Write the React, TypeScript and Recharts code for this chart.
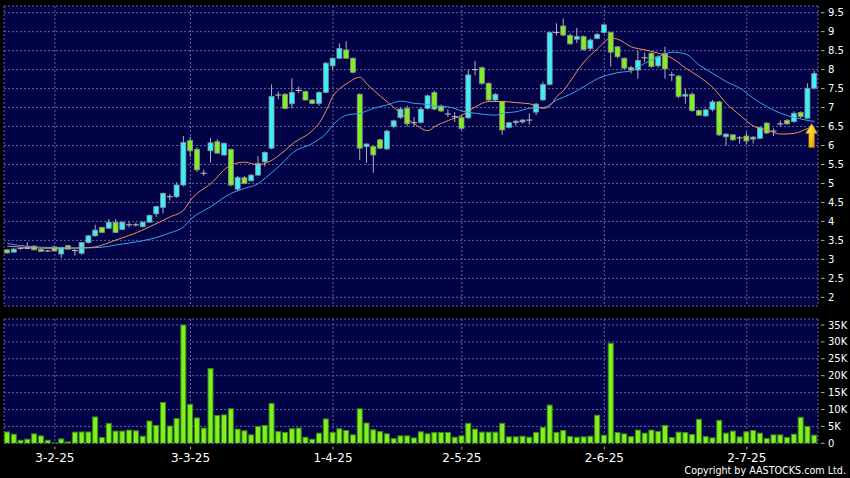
import React from 'react';
import { ComposedChart, Bar, Line, XAxis, YAxis, CartesianGrid, ReferenceDot } from 'recharts';

const dates = [
  '20-1-25','21-1-25','22-1-25','23-1-25','24-1-25','27-1-25','28-1-25',
  '3-2-25','4-2-25','5-2-25','6-2-25','7-2-25','10-2-25','11-2-25','12-2-25','13-2-25','14-2-25','17-2-25','18-2-25','19-2-25','20-2-25','21-2-25','24-2-25','25-2-25','26-2-25','27-2-25','28-2-25',
  '3-3-25','4-3-25','5-3-25','6-3-25','7-3-25','10-3-25','11-3-25','12-3-25','13-3-25','14-3-25','17-3-25','18-3-25','19-3-25','20-3-25','21-3-25','24-3-25','25-3-25','26-3-25','27-3-25','28-3-25','31-3-25',
  '1-4-25','2-4-25','3-4-25','7-4-25','8-4-25','9-4-25','10-4-25','11-4-25','14-4-25','15-4-25','16-4-25','17-4-25','22-4-25','23-4-25','24-4-25','25-4-25','28-4-25','29-4-25','30-4-25',
  '2-5-25','5-5-25','6-5-25','7-5-25','8-5-25','9-5-25','12-5-25','13-5-25','14-5-25','15-5-25','16-5-25','19-5-25','20-5-25','21-5-25','22-5-25','23-5-25','26-5-25','27-5-25','28-5-25','29-5-25','30-5-25',
  '2-6-25','3-6-25','4-6-25','5-6-25','6-6-25','9-6-25','10-6-25','11-6-25','12-6-25','13-6-25','16-6-25','17-6-25','18-6-25','19-6-25','20-6-25','23-6-25','24-6-25','25-6-25','26-6-25','27-6-25','30-6-25',
  '2-7-25','3-7-25','4-7-25','7-7-25','8-7-25','9-7-25','10-7-25','11-7-25','14-7-25','15-7-25','16-7-25',
];

const opens = [
  3.25,3.19,3.29,3.29,3.35,3.26,3.22,3.33,3.14,3.36,
  3.23,3.16,3.44,3.62,3.84,3.82,3.97,3.79,3.91,3.91,
  3.86,3.98,4.20,4.37,4.65,4.65,4.96,6.13,5.90,5.27,
  5.86,6.10,5.75,5.90,4.85,5.15,5.07,5.22,5.57,5.93,
  7.33,7.35,7.10,7.45,7.42,7.20,7.11,7.40,8.10,8.30,
  8.52,8.30,7.35,5.97,5.97,6.15,5.91,6.50,6.74,6.98,
  6.60,6.61,6.98,7.40,7.04,6.83,6.76,6.74,6.73,8.00,
  8.05,7.64,7.20,7.16,6.48,6.60,6.62,6.67,6.88,7.20,
  7.61,8.98,9.15,8.90,8.80,8.87,8.56,8.82,8.98,8.98,
  8.60,8.30,8.05,7.99,8.31,8.43,8.10,8.43,7.86,7.83,
  7.30,7.35,6.92,6.78,6.95,7.15,6.23,6.28,6.20,6.25,
  6.17,6.19,6.59,6.38,6.57,6.66,6.63,6.87,6.72,7.51,
];
const highs = [
  3.27,3.30,3.31,3.45,3.37,3.30,3.25,3.36,3.31,3.38,
  3.27,3.46,3.64,3.91,3.86,4.06,4.06,4.00,4.00,3.97,
  4.00,4.18,4.41,4.76,4.72,5.03,6.25,6.23,5.95,5.36,
  6.20,6.17,6.08,5.92,5.20,5.20,5.25,5.72,5.84,7.61,
  7.42,7.38,7.77,7.55,7.45,7.22,7.43,8.20,8.32,8.69,
  8.75,8.32,7.38,6.06,6.00,6.18,6.42,6.68,7.00,7.05,
  6.75,7.00,7.34,7.45,7.08,6.95,6.88,6.78,8.00,8.23,
  8.08,7.66,7.38,7.18,6.62,6.68,6.70,6.85,7.12,7.68,
  9.00,9.22,9.35,8.95,9.10,8.90,8.82,8.96,9.20,9.00,
  8.62,8.32,8.10,8.50,8.45,8.46,8.38,8.60,7.95,7.86,
  7.50,7.40,6.95,6.97,7.20,7.18,6.33,6.30,6.25,6.35,
  6.25,6.50,6.62,6.45,6.66,6.70,6.90,6.90,7.64,7.97,
];
const lows = [
  3.15,3.18,3.26,3.27,3.24,3.20,3.20,3.21,3.04,3.26,
  3.10,3.12,3.42,3.60,3.70,3.80,3.70,3.77,3.84,3.86,
  3.84,3.96,4.12,4.21,4.55,4.62,4.92,5.70,5.30,5.20,
  5.55,5.78,5.73,4.92,4.80,4.98,5.05,5.20,5.45,5.90,
  7.22,6.95,6.98,7.38,7.18,7.09,7.05,7.38,8.00,8.28,
  8.28,7.90,5.62,5.54,5.28,5.90,5.88,6.45,6.70,6.50,
  6.50,6.58,6.95,6.93,6.88,6.75,6.62,6.40,6.70,7.85,
  7.60,7.18,7.17,6.28,6.45,6.52,6.58,6.55,6.80,7.18,
  7.58,8.90,8.88,8.65,8.70,8.50,8.50,8.80,8.95,8.08,
  8.30,8.00,7.90,7.76,8.20,8.05,8.05,7.76,7.70,7.25,
  7.10,6.88,6.78,6.76,6.90,6.25,6.00,6.12,6.05,6.02,
  6.05,6.17,6.30,6.25,6.50,6.55,6.60,6.72,6.70,7.48,
];
const closes = [
  3.17,3.27,3.29,3.29,3.25,3.21,3.22,3.22,3.31,3.27,
  3.23,3.44,3.62,3.77,3.71,3.98,3.71,3.98,3.91,3.91,
  3.98,4.16,4.39,4.74,4.65,4.96,6.08,5.86,5.36,5.27,
  6.07,5.80,6.06,4.96,5.16,5.00,5.22,5.53,5.82,7.29,
  7.33,6.98,7.40,7.45,7.20,7.11,7.40,8.17,8.30,8.56,
  8.30,7.93,5.93,6.04,5.75,5.93,6.38,6.65,6.96,6.57,
  6.60,6.96,7.31,6.96,6.91,6.83,6.76,6.45,7.86,8.00,
  7.64,7.20,7.35,6.41,6.60,6.64,6.67,6.67,7.09,7.61,
  8.98,8.98,8.91,8.68,8.87,8.53,8.78,8.93,9.18,8.46,
  8.34,8.04,7.99,8.24,8.31,8.08,8.34,8.02,7.86,7.29,
  7.35,6.92,6.80,6.94,7.15,6.28,6.30,6.15,6.20,6.12,
  6.22,6.47,6.33,6.38,6.57,6.57,6.85,6.76,7.51,7.90,
];
// volume in thousands of shares
const volumesK = [
  3.35,2.7,0.9,1.2,2.8,2.2,0.9,0.1,1.3,0.4,
  3.3,3.35,3.35,7.8,1.7,5.9,3.6,3.6,3.9,3.7,
  2.1,6.6,5.3,12.1,5.1,7.3,35.0,11.5,7.5,4.5,
  22.1,8.2,8.4,10.2,4.2,3.7,2.5,5.0,5.3,11.8,
  3.45,3.2,4.3,4.5,1.8,1.2,3.0,7.2,3.2,4.3,
  3.8,2.5,10.2,6.0,4.0,3.45,2.8,1.4,2.2,2.2,
  1.6,3.4,2.8,3.2,3.2,3.2,1.8,2.2,5.9,4.2,
  3.3,3.3,3.3,5.9,1.9,1.9,2.1,1.8,3.2,4.7,
  11.3,3.2,3.8,2.0,1.8,1.9,2.1,8.3,2.4,29.6,
  3.2,2.8,2.0,3.9,3.0,3.9,3.5,5.3,1.7,3.3,
  3.2,2.6,7.1,2.0,1.6,6.8,3.0,3.6,1.9,3.4,
  3.8,3.0,1.4,2.5,2.5,1.7,2.7,7.7,5.0,2.4,
];
// moving averages: [bar number (1-based), value]
const maFastPts: [number, number][] = [
  [1,3.35],[4,3.31],[8,3.29],[12,3.30],[14,3.33],[17,3.51],[20,3.70],[22,3.86],[25,4.12],[27,4.30],
  [28,4.56],[31,5.00],[34,5.49],[36,5.56],[38,5.49],[39,5.53],[42,5.88],[43,6.04],[46,6.40],[47,6.60],
  [48,6.92],[49,7.30],[50,7.50],[51,7.63],[53,7.80],[54,7.62],[56,7.30],[57,7.15],[59,6.85],[61,6.57],
  [63,6.39],[64,6.50],[66,6.66],[68,6.80],[70,7.02],[72,7.16],[74,7.16],[76,7.13],[78,7.10],[80,6.98],
  [81,7.05],[82,7.29],[83,7.45],[84,7.70],[86,8.20],[88,8.55],[90,8.83],[91,8.80],[93,8.60],[95,8.52],
  [97,8.43],[99,8.30],[101,8.04],[103,7.81],[105,7.53],[107,7.11],[109,6.80],[111,6.51],[113,6.41],[115,6.30],
  [117,6.32],[119,6.45],[120,6.51],
];
const maSlowPts: [number, number][] = [
  [1,3.42],[4,3.34],[8,3.31],[12,3.30],[15,3.32],[17,3.38],[20,3.46],[22,3.53],[25,3.70],[27,3.86],
  [28,4.05],[31,4.39],[34,4.74],[36,4.87],[38,5.00],[39,5.14],[42,5.62],[43,5.80],[46,6.06],[48,6.32],
  [49,6.54],[51,6.80],[53,6.85],[55,6.98],[57,7.07],[59,7.17],[61,7.11],[63,7.08],[64,7.04],[66,7.02],
  [68,6.91],[70,6.85],[73,6.80],[74,6.85],[76,6.89],[78,6.98],[80,7.00],[82,7.20],[84,7.35],[86,7.55],
  [88,7.76],[90,7.88],[91,7.92],[93,7.97],[95,8.17],[97,8.34],[99,8.46],[101,8.41],[103,8.12],[105,7.90],
  [107,7.68],[109,7.51],[111,7.24],[113,7.02],[115,6.85],[117,6.74],[119,6.66],[120,6.63],
];
const xTickLabels = ['3-2-25', '3-3-25', '1-4-25', '2-5-25', '2-6-25', '2-7-25'];
const priceTicks = [2, 2.5, 3, 3.5, 4, 4.5, 5, 5.5, 6, 6.5, 7, 7.5, 8, 8.5, 9, 9.5];
const volumeTicks = [0, 5000, 10000, 15000, 20000, 25000, 30000, 35000];
const arrowPrice = 6.58;

const NAVY = '#020246';
const GRID = '#6464a0';
const CYAN = '#3af2f5';
const LIME = '#80f01e';
const FONT = 'DejaVu Sans, Verdana, sans-serif';

const fastMap = new Map(maFastPts);
const slowMap = new Map(maSlowPts);
const data = dates.map((d, i) => ({
  date: d,
  open: opens[i],
  high: highs[i],
  low: lows[i],
  close: closes[i],
  range: [lows[i], highs[i]],
  vol: volumesK[i] * 1000,
  maFast: fastMap.has(i + 1) ? fastMap.get(i + 1) : null,
  maSlow: slowMap.has(i + 1) ? slowMap.get(i + 1) : null,
}));

const Candle = (props: any) => {
  const { x, y, width, height, payload } = props;
  if (x == null || y == null || !payload) return null;
  const { open, close, high, low } = payload;
  const top = Math.min(y, y + height);
  const h = Math.abs(height);
  const k = high > low ? h / (high - low) : 0;
  const py = (v: number) => top + (high - v) * k;
  const cx = x + width / 2;
  const up = close > open;
  const flat = Math.abs(close - open) < 1e-9;
  const bTop = py(Math.max(open, close));
  const bBot = py(Math.min(open, close));
  return (
    <g>
      <line x1={cx} x2={cx} y1={top} y2={top + h} stroke="#b0b0b8" strokeWidth={1} />
      {flat ? (
        <line x1={x} x2={x + width} y1={bTop} y2={bTop} stroke="#c8c8d0" strokeWidth={1} />
      ) : (
        <rect
          x={x + 0.5}
          y={bTop}
          width={width - 1}
          height={Math.max(bBot - bTop, 1)}
          fill={up ? CYAN : LIME}
          stroke="#8c8c98"
          strokeWidth={0.8}
        />
      )}
    </g>
  );
};

const VolBar = (props: any) => {
  const { x, y, width, height } = props;
  if (x == null || y == null || !height) return null;
  return (
    <rect x={x + 0.5} y={y} width={width - 1} height={height} fill={LIME} stroke="#3c8c10" strokeWidth={1} />
  );
};

const YTick = (fmt: (v: number) => string) => (props: any) => {
  const { x, y, payload } = props;
  return (
    <g>
      <line x1={x + 3} x2={x + 6.5} y1={y} y2={y} stroke="#b0b0b0" strokeWidth={1} />
      <text x={x + 10} y={y} dy={3.6} fill="#ffffff" fontSize={10} fontFamily={FONT} textAnchor="start">
        {fmt(payload.value)}
      </text>
    </g>
  );
};

const XTick = (props: any) => {
  const { x, y, payload } = props;
  return (
    <g>
      <line x1={x} x2={x} y1={y + 3.4} y2={y + 6} stroke="#b0b0b0" strokeWidth={1} />
      <text x={x} y={y + 19} fill="#ffffff" fontSize={12} fontFamily={FONT} textAnchor="middle">
        {payload.value}
      </text>
    </g>
  );
};

const ArrowShape = (props: any) => {
  const { cx, cy } = props;
  if (cx == null || cy == null) return null;
  const x = cx - 3;
  const pts = [
    [x, cy],
    [x + 6, cy + 10],
    [x + 2.8, cy + 10],
    [x + 2.8, cy + 24],
    [x - 2.8, cy + 24],
    [x - 2.8, cy + 10],
    [x - 6, cy + 10],
  ]
    .map((p) => p.join(','))
    .join(' ');
  return (
    <g>
      <defs>
        <linearGradient id="arrowGrad" x1="0" y1="0" x2="1" y2="1">
          <stop offset="0%" stopColor="#fff27a" />
          <stop offset="55%" stopColor="#f5c21a" />
          <stop offset="100%" stopColor="#d98a00" />
        </linearGradient>
      </defs>
      <polygon points={pts} fill="url(#arrowGrad)" stroke="#a86a00" strokeWidth={0.6} />
    </g>
  );
};

const fmtPrice = (v: number) => String(v);
const fmtVol = (v: number) => (v === 0 ? '0' : `${v / 1000}K`);

export default function App() {
  return (
    <div
      style={{
        position: 'absolute',
        left: 0,
        top: 0,
        width: 850,
        height: 478,
        background: '#000000',
        overflow: 'hidden',
        fontFamily: FONT,
      }}
    >
      <div style={{ position: 'absolute', left: 0, top: 0 }}>
        <ComposedChart
          width={850}
          height={312}
          data={data}
          margin={{ top: 6, right: 0, bottom: 6, left: 4 }}
          barCategoryGap={0}
        >
          <CartesianGrid
            stroke={GRID}
            strokeDasharray="2 2"
            fill={NAVY}
            fillOpacity={1}
          />
          <XAxis dataKey="date" hide ticks={xTickLabels} interval={0} />
          <YAxis
            orientation="right"
            width={32}
            domain={[1.7707, 9.6765]}
            allowDataOverflow
            ticks={priceTicks}
            interval={0}
            axisLine={false}
            tickLine={false}
            tickSize={0}
            tickMargin={0}
            tick={YTick(fmtPrice)}
          />
          <Bar dataKey="range" barSize={6} shape={Candle} isAnimationActive={false} />
          <Line
            dataKey="maSlow"
            type="monotone"
            stroke="#38a4e8"
            strokeWidth={1}
            dot={false}
            connectNulls
            isAnimationActive={false}
          />
          <Line
            dataKey="maFast"
            type="monotone"
            stroke="#e8925e"
            strokeWidth={1}
            dot={false}
            connectNulls
            isAnimationActive={false}
          />
          <ReferenceDot
            x={dates[dates.length - 1]}
            y={arrowPrice}
            shape={ArrowShape}
            ifOverflow="visible"
          />
        </ComposedChart>
      </div>
      <div style={{ position: 'absolute', left: 0, top: 312 }}>
        <ComposedChart
          width={850}
          height={166}
          data={data}
          margin={{ top: 7, right: 0, bottom: 0, left: 4 }}
          barCategoryGap={0}
        >
          <CartesianGrid
            stroke={GRID}
            strokeDasharray="2 2"
            fill={NAVY}
            fillOpacity={1}
          />
          <XAxis
            dataKey="date"
            ticks={xTickLabels}
            interval={0}
            height={34.7}
            axisLine={false}
            tickLine={false}
            tickSize={0}
            tickMargin={0}
            tick={XTick}
          />
          <YAxis
            orientation="right"
            width={32}
            domain={[0, 36775]}
            allowDataOverflow
            ticks={volumeTicks}
            interval={0}
            axisLine={false}
            tickLine={false}
            tickSize={0}
            tickMargin={0}
            tick={YTick(fmtVol)}
          />
          <Bar dataKey="vol" barSize={6} shape={VolBar} isAnimationActive={false} />
        </ComposedChart>
      </div>
      <svg
        width={850}
        height={478}
        style={{ position: 'absolute', left: 0, top: 0, pointerEvents: 'none' }}
      >
        <text x={846} y={474} fill="#ffffff" fontSize={9.6} fontFamily={FONT} textAnchor="end">
          Copyright by AASTOCKS.com Ltd.
        </text>
      </svg>
    </div>
  );
}
